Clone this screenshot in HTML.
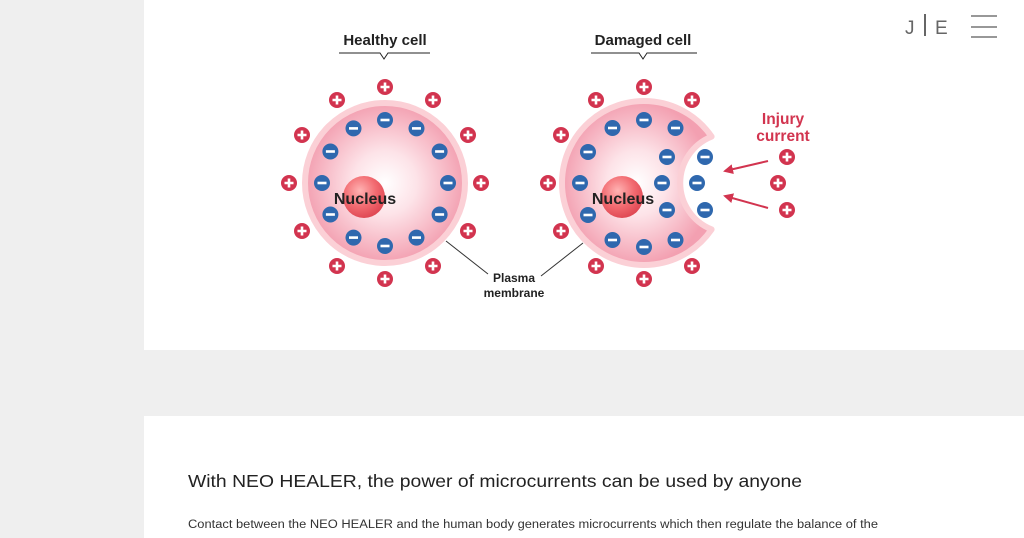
<!DOCTYPE html>
<html><head><meta charset="utf-8"><style>
html,body{margin:0;padding:0;width:1024px;height:538px;overflow:hidden;background:#efefef;font-family:"Liberation Sans",sans-serif}
</style></head><body>
<svg width="1024" height="538" viewBox="0 0 1024 538" xmlns="http://www.w3.org/2000/svg" style="display:block">
<defs>
<radialGradient id="cell" cx="50%" cy="50%" r="50%">
<stop offset="0" stop-color="#fff"/><stop offset="0.4" stop-color="#fde3e8"/><stop offset="1" stop-color="#f3a0b1"/>
</radialGradient>
<radialGradient id="nuc" cx="40%" cy="35%" r="65%">
<stop offset="0" stop-color="#ffb3b3"/><stop offset="0.6" stop-color="#f26a70"/><stop offset="1" stop-color="#e04a55"/>
</radialGradient>
<g id="p"><circle r="8" fill="#d2344f"/><path d="M-4.5 0H4.5M0 -4.5V4.5" stroke="#fff" stroke-width="2.6"/></g>
<g id="m"><circle r="8" fill="#2f68ae"/><path d="M-4.5 0H4.5" stroke="#fff" stroke-width="2.6"/></g>
<marker id="ar" markerWidth="10" markerHeight="10" refX="8" refY="5" orient="auto" markerUnits="userSpaceOnUse"><path d="M0 0L10 5L0 10z" fill="#d2344f"/></marker>
</defs>
<rect x="144" y="0" width="880" height="350" fill="#fff"/>
<rect x="144" y="416" width="880" height="122" fill="#fff"/>

<text x="905" y="34" font-size="19" fill="#666">J</text>
<rect x="924" y="14" width="2" height="22" fill="#666"/>
<text x="935" y="34" font-size="19" fill="#666">E</text>
<path d="M971 16H997M971 27H997M971 37H997" stroke="#777" stroke-width="1.5"/>

<text x="385" y="45" font-size="15" font-weight="bold" fill="#222" text-anchor="middle">Healthy cell</text>
<path d="M339 53H380L384 59L388 53H430" stroke="#222" stroke-width="1" fill="none"/>
<text x="643" y="45" font-size="15" font-weight="bold" fill="#222" text-anchor="middle">Damaged cell</text>
<path d="M591 53H639L643 59L647 53H697" stroke="#222" stroke-width="1" fill="none"/>

<circle cx="385" cy="183" r="80" fill="url(#cell)" stroke="#fbd0d6" stroke-width="6"/>
<circle cx="364" cy="197" r="21" fill="url(#nuc)"/>
<g transform="translate(385,183)">
<use href="#p" x="0" y="-96"/><use href="#p" x="48" y="-83"/><use href="#p" x="83" y="-48"/><use href="#p" x="96" y="0"/><use href="#p" x="83" y="48"/><use href="#p" x="48" y="83"/><use href="#p" x="0" y="96"/><use href="#p" x="-48" y="83"/><use href="#p" x="-83" y="48"/><use href="#p" x="-96" y="0"/><use href="#p" x="-83" y="-48"/><use href="#p" x="-48" y="-83"/>
<use href="#m" x="0" y="-63"/><use href="#m" x="31.5" y="-54.6"/><use href="#m" x="54.6" y="-31.5"/><use href="#m" x="63" y="0"/><use href="#m" x="54.6" y="31.5"/><use href="#m" x="31.5" y="54.6"/><use href="#m" x="0" y="63"/><use href="#m" x="-31.5" y="54.6"/><use href="#m" x="-54.6" y="31.5"/><use href="#m" x="-63" y="0"/><use href="#m" x="-54.6" y="-31.5"/><use href="#m" x="-31.5" y="-54.6"/>
</g>
<text x="365" y="204" font-size="16" font-weight="bold" fill="#222" text-anchor="middle">Nucleus</text>

<path d="M711.6 136.6 A82 82 0 1 0 711.6 229.4 A50 50 0 0 1 711.6 136.6 Z" fill="url(#cell)" stroke="#fbd0d6" stroke-width="6" stroke-linejoin="round"/>
<circle cx="622" cy="197" r="21" fill="url(#nuc)"/>
<g transform="translate(644,183)">
<use href="#p" x="0" y="-96"/><use href="#p" x="48" y="-83"/><use href="#p" x="48" y="83"/><use href="#p" x="0" y="96"/><use href="#p" x="-48" y="83"/><use href="#p" x="-83" y="48"/><use href="#p" x="-96" y="0"/><use href="#p" x="-83" y="-48"/><use href="#p" x="-48" y="-83"/>
<use href="#m" x="0" y="-63"/><use href="#m" x="31.5" y="-55"/><use href="#m" x="31.5" y="57"/><use href="#m" x="0" y="64"/><use href="#m" x="-31.5" y="57"/><use href="#m" x="-56" y="32"/><use href="#m" x="-64" y="0"/><use href="#m" x="-56" y="-31"/><use href="#m" x="-31.5" y="-55"/>
</g>
<use href="#m" x="667" y="157"/><use href="#m" x="662" y="183"/><use href="#m" x="667" y="210"/>
<use href="#m" x="705" y="157"/><use href="#m" x="697" y="183"/><use href="#m" x="705" y="210"/>
<use href="#p" x="787" y="157"/><use href="#p" x="778" y="183"/><use href="#p" x="787" y="210"/>
<text x="623" y="204" font-size="16" font-weight="bold" fill="#222" text-anchor="middle">Nucleus</text>

<text x="783" y="124" font-size="15.5" font-weight="bold" fill="#d2344f" text-anchor="middle">Injury</text>
<text x="783" y="141" font-size="15.5" font-weight="bold" fill="#d2344f" text-anchor="middle">current</text>
<path d="M768 161L725 171" stroke="#d2344f" stroke-width="2" marker-end="url(#ar)"/>
<path d="M768 208L725 196" stroke="#d2344f" stroke-width="2" marker-end="url(#ar)"/>

<path d="M446 241L488 274" stroke="#333" stroke-width="1"/>
<path d="M583 243L541 276" stroke="#333" stroke-width="1"/>
<text x="514" y="282" font-size="12" font-weight="bold" fill="#222" text-anchor="middle">Plasma</text>
<text x="514" y="297" font-size="12" font-weight="bold" fill="#222" text-anchor="middle">membrane</text>

<text x="188" y="487" font-size="17.5" fill="#222" textLength="614" lengthAdjust="spacingAndGlyphs">With NEO HEALER, the power of microcurrents can be used by anyone</text>
<text x="188" y="528" font-size="11.5" fill="#333" textLength="690" lengthAdjust="spacingAndGlyphs">Contact between the NEO HEALER and the human body generates microcurrents which then regulate the balance of the</text>
</svg>
</body></html>
